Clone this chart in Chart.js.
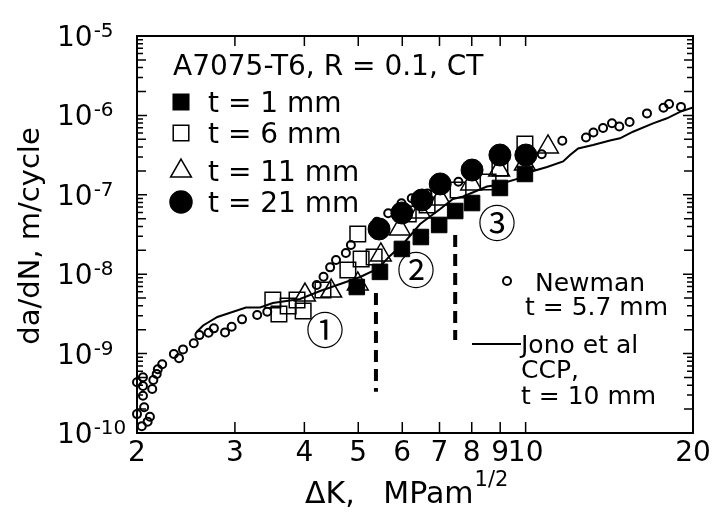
<!DOCTYPE html>
<html>
<head>
<meta charset="utf-8">
<script src="https://cdn.jsdelivr.net/npm/chart.js@4.4.0/dist/chart.umd.min.js"></script>
<style>
  html, body { margin: 0; padding: 0; background: #fff; }
  #wrap { width: 713px; height: 516px; }
</style>
</head>
<body>
<div id="wrap"><canvas id="chart" width="713" height="516"></canvas></div>
<script>
/* ---- data (ΔK in MPa·m^1/2, da/dN in m/cycle) ---- */
const t1K    = [4.97, 5.47, 5.99, 6.48, 6.99, 7.47, 8.01, 8.99, 9.97];
const t1Rate = [6.9e-9, 1.07e-8, 2.08e-8, 2.94e-8, 4.17e-8, 6.25e-8, 7.88e-8, 1.22e-7, 1.83e-7];

const t6K    = [3.51, 3.60, 3.74, 3.88, 3.98, 4.32, 4.79, 4.99, 5.06, 5.34, 6.15, 6.65, 7.56, 8.56, 8.99, 9.97];
const t6Rate = [4.73e-9, 3.15e-9, 3.98e-9, 4.73e-9, 3.44e-9, 6.32e-9, 1.13e-8, 3.21e-8, 1.55e-8, 1.65e-8,
                5.73e-8, 7.44e-8, 1.15e-7, 1.45e-7, 2.18e-7, 4.36e-7];

const t11K    = [4.01, 4.47, 4.99, 5.49, 5.94, 6.46, 7.02, 7.98, 8.96, 9.97, 10.97];
const t11Rate = [5.47e-9, 6.14e-9, 7.53e-9, 1.75e-8, 3.71e-8, 6.07e-8, 8.85e-8, 1.37e-7, 2.05e-7, 2.44e-7, 4.0e-7];

const t21K    = [5.45, 5.99, 6.51, 7.02, 8.01, 8.99, 10.01];
const t21Rate = [3.71e-8, 5.9e-8, 8.6e-8, 1.37e-7, 2.05e-7, 3.17e-7, 3.17e-7];

const newmanK = [2.00, 2.05, 2.05, 2.05, 2.00, 2.06, 2.04, 2.09, 2.11, 2.13, 2.14, 2.17, 2.18, 2.22, 2.33,
                 2.38, 2.42, 2.53, 2.59, 2.69, 2.75, 2.88, 2.96, 3.09, 3.29, 3.43, 4.21, 4.33, 4.45, 4.56,
                 4.75, 4.85, 5.40, 5.66, 5.98, 6.24, 6.66, 7.57, 10.69, 11.64, 12.84, 13.24, 13.78, 14.30,
                 14.74, 15.38, 16.53, 17.70, 18.11, 19.03];
const newmanRate = [4.35e-10, 5.03e-10, 3.91e-10, 2.95e-10, 1.73e-10, 2.11e-10, 1.22e-10, 1.39e-10, 1.6e-10,
                    3.58e-10, 4.65e-10, 5.53e-10, 6.34e-10, 7.33e-10, 9.89e-10, 8.73e-10, 1.13e-9, 1.35e-9,
                    1.71e-9, 1.83e-9, 2.08e-9, 1.85e-9, 2.18e-9, 2.7e-9, 3.06e-9, 3.37e-9, 7.31e-9, 9.3e-9,
                    1.22e-8, 1.51e-8, 1.85e-8, 2.33e-8, 4.58e-8, 5.85e-8, 7.82e-8, 9.03e-8, 1.04e-7, 1.46e-7,
                    3.24e-7, 4.8e-7, 5.27e-7, 6.09e-7, 6.94e-7, 7.95e-7, 7.25e-7, 8.26e-7, 1.06e-6, 1.25e-6,
                    1.39e-6, 1.28e-6];

const jonoK = [2.56, 2.63, 2.79, 3.14, 3.33, 3.51, 3.93, 4.27, 4.64, 5.04, 5.43, 5.70, 6.02, 6.46, 7.02,
               7.40, 7.72, 8.52, 8.88, 9.69, 10.18, 10.93, 11.68, 12.02, 12.43, 13.22, 14.18, 14.78, 15.60,
               16.95, 17.96, 18.95, 20];
const jonoRate = [1.87e-9, 2.26e-9, 2.89e-9, 3.81e-9, 3.81e-9, 4.34e-9, 4.87e-9, 6.14e-9, 7.53e-9, 9.22e-9,
                  1.18e-8, 1.7e-8, 2.4e-8, 4.29e-8, 6.62e-8, 8.85e-8, 9.52e-8, 1.27e-7, 1.33e-7, 1.6e-7,
                  1.94e-7, 2.24e-7, 2.63e-7, 3.17e-7, 3.83e-7, 4.24e-7, 4.83e-7, 5.15e-7, 6.23e-7, 7.95e-7,
                  9.19e-7, 1.11e-6, 1.26e-6];

// vertical dashed markers
const dash1K = [5.38, 5.38];
const dash1Rate = [5.8e-9, 3.3e-10];
const dash2K = [7.47, 7.47];
const dash2Rate = [3.12e-8, 1.48e-9];

// axes
const xMin = 2, xMax = 20;
const xTickLabels = [2, 3, 4, 5, 6, 7, 8, 9, 10, 20];
const xInnerTicks = [3, 4, 5, 6, 7, 8, 9, 10];
const yExponents = [-10, -9, -8, -7, -6, -5];

const pts = (xs, ys) => xs.map((x, i) => ({ x, y: ys[i] }));

const FONT = "'DejaVu Sans', Verdana, sans-serif";
const BLACK = '#000';
const NONE = 'rgba(0,0,0,0)';

/* ---- frame, ticks, labels, legend, annotations ---- */
const decor = {
  id: 'decor',
  afterDraw(chart) {
    const { ctx, chartArea: a, scales: { x, y } } = chart;
    ctx.save();
    ctx.strokeStyle = BLACK;
    ctx.fillStyle = BLACK;

    // box
    ctx.lineWidth = 2;
    ctx.strokeRect(a.left, a.top, a.right - a.left, a.bottom - a.top);

    // inward ticks
    ctx.lineWidth = 1.5;
    ctx.beginPath();
    xInnerTicks.forEach(v => {
      const px = x.getPixelForValue(v);
      ctx.moveTo(px, a.bottom); ctx.lineTo(px, a.bottom - 11);
      ctx.moveTo(px, a.top);    ctx.lineTo(px, a.top + 10);
    });
    for (let i = 0; i < yExponents.length - 1; i++) {
      for (let m = 1; m < 10; m++) {
        const py = y.getPixelForValue(m * Math.pow(10, yExponents[i]));
        const len = m === 1 ? 10 : (m === 2 || m === 5 ? 9 : 6);
        ctx.moveTo(a.left, py);  ctx.lineTo(a.left + len, py);
        ctx.moveTo(a.right, py); ctx.lineTo(a.right - len, py);
      }
    }
    ctx.stroke();

    // x tick labels
    ctx.font = '28px ' + FONT;
    ctx.textAlign = 'center';
    ctx.textBaseline = 'alphabetic';
    xTickLabels.forEach(v => ctx.fillText(String(v), x.getPixelForValue(v), 461));

    // y tick labels 10^n
    ctx.textAlign = 'left';
    yExponents.forEach(e => {
      const py = y.getPixelForValue(Math.pow(10, e));
      ctx.font = '28px ' + FONT;
      ctx.fillText('10', 57, py + 10);
      const w = ctx.measureText('10').width;
      ctx.font = '20px ' + FONT;
      ctx.fillText(String(e), 57 + w + 1, py + 1);
    });

    // axis titles
    ctx.font = '30px ' + FONT;
    ctx.fillText('\u0394K,   MPam', 305, 503);
    const tw = ctx.measureText('\u0394K,   MPam').width;
    ctx.font = '21px ' + FONT;
    ctx.fillText('1/2', 305 + tw + 1, 486);

    ctx.save();
    ctx.translate(39, 236);
    ctx.rotate(-Math.PI / 2);
    ctx.textAlign = 'center';
    ctx.font = '29px ' + FONT;
    ctx.fillText('da/dN, m/cycle', 0, 0);
    ctx.restore();

    // legend (upper left)
    ctx.textAlign = 'left';
    ctx.font = '28px ' + FONT;
    ctx.fillText('A7075-T6, R = 0.1, CT', 173, 75);
    const rows = [
      { label: 't = 1 mm',  style: 'rect',     r: 11, fill: BLACK, cy: 102 },
      { label: 't = 6 mm',  style: 'rect',     r: 11, fill: NONE,  cy: 133 },
      { label: 't = 11 mm', style: 'triangle', r: 12, fill: NONE,  cy: 171 },
      { label: 't = 21 mm', style: 'circle',   r: 11, fill: BLACK, cy: 202 }
    ];
    rows.forEach(rw => {
      ctx.fillStyle = rw.fill;
      ctx.lineWidth = 1.5;
      Chart.helpers.drawPoint(ctx, { pointStyle: rw.style, radius: rw.r, borderWidth: 1.5, rotation: 0 }, 181, rw.cy);
      ctx.fillStyle = BLACK;
      ctx.fillText(rw.label, 208, rw.cy + 10);
    });

    // legend (right side)
    ctx.fillStyle = NONE;
    ctx.lineWidth = 2;
    Chart.helpers.drawPoint(ctx, { pointStyle: 'circle', radius: 4, borderWidth: 2, rotation: 0 }, 507, 281);
    ctx.fillStyle = BLACK;
    ctx.font = '25px ' + FONT;
    ctx.fillText('Newman', 535, 291);
    ctx.fillText('t = 5.7 mm', 525, 315);
    ctx.beginPath();
    ctx.moveTo(472, 344); ctx.lineTo(521, 344);
    ctx.stroke();
    ctx.fillText('Jono et al', 521, 353);
    ctx.fillText('CCP,', 521, 378);
    ctx.fillText('t = 10 mm', 521, 404);

    // stage numbers
    ctx.font = "38px 'DejaVu Serif', 'Noto Sans CJK JP', serif";
    ctx.textAlign = 'center';
    ctx.textBaseline = 'middle';
    ctx.fillText('\u2460', 325, 334);
    ctx.fillText('\u2461', 416, 274);
    ctx.fillText('\u2462', 497, 227);

    ctx.restore();
  }
};

new Chart(document.getElementById('chart'), {
  type: 'scatter',
  data: {
    datasets: [
      { label: 't = 21 mm', data: pts(t21K, t21Rate), order: 1, pointStyle: 'circle', pointRadius: 11,
        backgroundColor: BLACK, borderColor: BLACK, borderWidth: 1 },
      { label: 't = 1 mm', data: pts(t1K, t1Rate), order: 2, pointStyle: 'rect', pointRadius: 11,
        backgroundColor: BLACK, borderColor: BLACK, borderWidth: 1 },
      { label: 't = 11 mm', data: pts(t11K, t11Rate), order: 3, pointStyle: 'triangle', pointRadius: 12,
        backgroundColor: NONE, borderColor: BLACK, borderWidth: 1.5 },
      { label: 't = 6 mm', data: pts(t6K, t6Rate), order: 4, pointStyle: 'rect', pointRadius: 11,
        backgroundColor: NONE, borderColor: BLACK, borderWidth: 1.5 },
      { label: 'Jono et al', data: pts(jonoK, jonoRate), order: 5, showLine: true, pointRadius: 0,
        borderColor: BLACK, borderWidth: 2, tension: 0 },
      { label: 'Newman', data: pts(newmanK, newmanRate), order: 6, pointStyle: 'circle', pointRadius: 4,
        backgroundColor: NONE, borderColor: BLACK, borderWidth: 2, clip: false },
      { label: 'stage 1-2', data: pts(dash1K, dash1Rate), order: 7, showLine: true, pointRadius: 0,
        borderColor: BLACK, borderWidth: 4, borderDash: [12, 7] },
      { label: 'stage 2-3', data: pts(dash2K, dash2Rate), order: 8, showLine: true, pointRadius: 0,
        borderColor: BLACK, borderWidth: 4, borderDash: [12, 7] }
    ]
  },
  options: {
    responsive: false,
    animation: false,
    events: [],
    layout: { padding: { left: 137, right: 20, top: 36, bottom: 83 } },
    plugins: { legend: { display: false }, tooltip: { enabled: false } },
    scales: {
      x: { type: 'logarithmic', min: xMin, max: xMax, display: false },
      y: { type: 'logarithmic', min: 1e-10, max: 1e-5, display: false }
    }
  },
  plugins: [decor]
});
</script>
</body>
</html>
